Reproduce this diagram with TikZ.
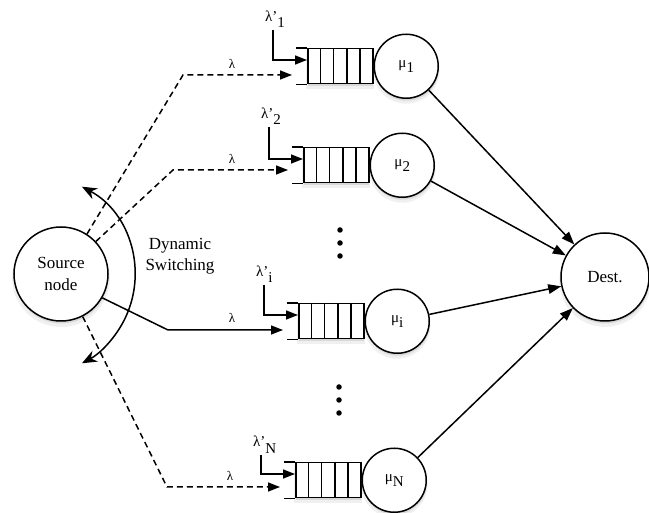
\documentclass[tikz,border=0pt]{standalone}
\usepackage{fontspec}
\setmainfont{Liberation Serif}
\usetikzlibrary{arrows.meta,shadows,calc}
\newcommand{\qunit}[5]{%
  \node[qbox,anchor=north west] (q#1) at (#2,#3) {};
  \foreach \k in {1,...,4}{\draw[conn] ($(q#1.north west)!\k/5!(q#1.north east)$) -- ($(q#1.south west)!\k/5!(q#1.south east)$);}
  \draw[conn] (q#1.north west) -- ++(-11,0);
  \draw[conn] (q#1.south west) -- ++(-11,0);
  \node[srv,anchor=west] (mu#1) at (q#1.east) {μ\raisebox{-5pt}{#4}};
  \node[lbl,anchor=base west] (lp#1) at (#2-42,#5-6) {λ'\raisebox{-6pt}{#4}};
  \coordinate (lt#1) at (#2-34,#5+2);
  \draw[conn,tip] (lt#1) |- ($(q#1.north west)+(0,12)$);
}
\begin{document}
\begin{tikzpicture}[x=1pt,y=-1pt,
  every node/.style={inner sep=0pt},
  shad/.style={drop shadow={opacity=0.12,shadow xshift=0pt,shadow yshift=-4pt,shadow scale=1.04},
               drop shadow={opacity=0.2,shadow xshift=0.5pt,shadow yshift=-2.5pt}},
  circ/.style={circle,draw,line width=1.5pt,fill=white,shad},
  srv/.style={circ,minimum size=64pt,font=\fontsize{15}{15}\selectfont},
  qbox/.style={draw,line width=1.5pt,fill=white,minimum width=65pt,minimum height=35pt,shad},
  conn/.style={line width=1.5pt},
  tip/.style={-{Triangle[length=12pt,width=9pt]}},
  dtip/.style={-{Triangle[length=13pt,width=9.5pt]}},
  dsh/.style={conn,dash pattern=on 6pt off 4pt},
  lbl/.style={font=\fontsize{15}{15}\selectfont},
  lsmall/.style={font=\fontsize{13}{13}\selectfont},
  dotn/.style={circle,fill=black,minimum size=5.5pt}]
\useasboundingbox (0,0) rectangle (649,513);

\node[circ,minimum size=94pt,align=center,font=\fontsize{17}{22}\selectfont] (src) at (61,274) {Source\\node};
\node[circ,minimum size=88pt,font=\fontsize{17}{17}\selectfont] (dest) at (605,277) {Dest.};

\qunit{1}{307}{48}{1}{28}
\qunit{2}{303}{147}{2}{125}
\qunit{i}{298}{303}{i}{283}
\qunit{N}{295}{462}{N}{453}

% dots
\node[dotn] (d1) at (340,230) {};
\node[dotn] (d2) at (340,243) {};
\node[dotn] (d3) at (340,256) {};
\node[dotn] (d4) at (339,387) {};
\node[dotn] (d5) at (339,400) {};
\node[dotn] (d6) at (339,413) {};

% routes from source
\coordinate (c1) at (183,75);  \coordinate (e1) at (292,75);
\coordinate (c2) at (173,170); \coordinate (e2) at (288,170);
\coordinate (ci) at (168,330); \coordinate (ei) at (283,330);
\coordinate (cN) at (167,487); \coordinate (eN) at (280,487);
\draw[dsh,tip] (src.57) -- (c1) -- (e1);
\draw[dsh,tip] (src.43) -- (c2) -- (e2);
\draw[conn,tip] (src.-30) -- (ci) -- (ei);
\draw[dsh,tip] (src.-63) -- (cN) -- (eN);
\node[lsmall,anchor=south] (l1) at (232,69) {λ};
\node[lsmall,anchor=south] (l2) at (232,164) {λ};
\node[lsmall,anchor=south] (li) at (232,323) {λ};
\node[lsmall,anchor=south] (lN) at (230,481) {λ};

% dynamic switching
\coordinate (sw1) at (81.9,186.7);
\draw[conn,{Stealth[length=15pt,width=12pt]}-{Stealth[length=15pt,width=12pt]}] (sw1) arc[start angle=-62,end angle=62,radius=100];
\node[align=center,font=\fontsize{17}{21}\selectfont] (dyn) at (180,256) {Dynamic\\Switching};

% to destination
\draw[conn,dtip] (mu1) -- (dest);
\draw[conn,dtip] (mu2) -- (dest);
\draw[conn,dtip] (mui) -- (dest);
\draw[conn,dtip] (muN) -- (dest);
\end{tikzpicture}
\end{document}
